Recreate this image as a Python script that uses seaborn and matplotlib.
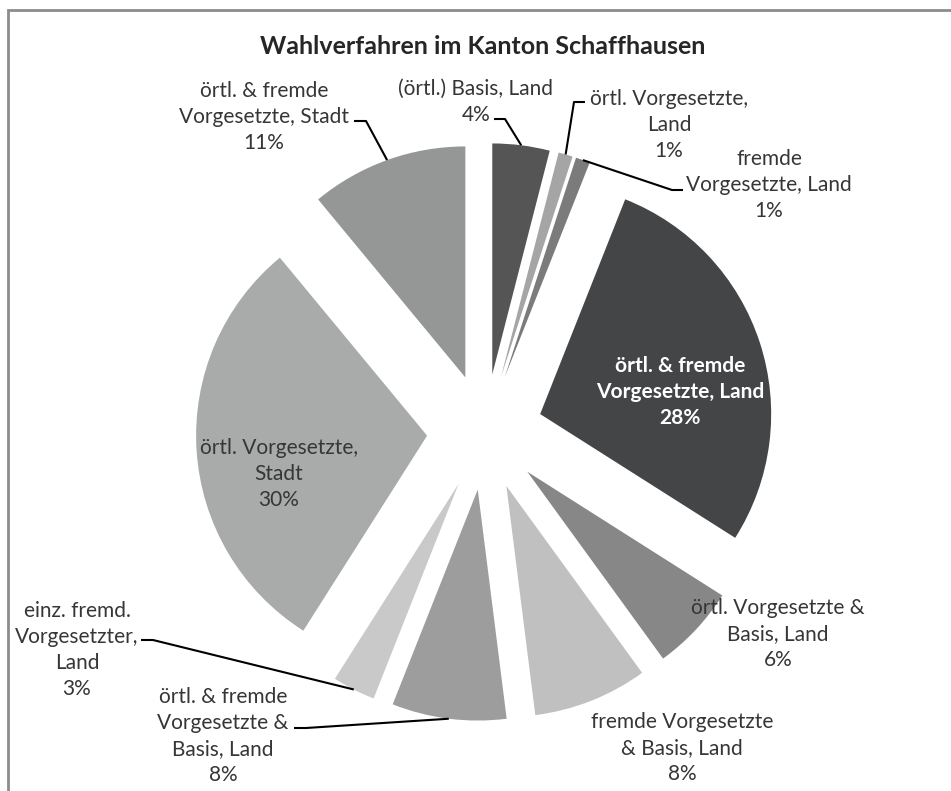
import numpy as np
import matplotlib
matplotlib.use('Agg')
import matplotlib.pyplot as plt
import seaborn as sns

sns.set_theme(style='white')
plt.rcParams['font.family'] = ['Lato', 'DejaVu Sans']

# Daten
categories = ['(örtl.) Basis, Land', 'örtl. Vorgesetzte,\nLand', 'fremde\nVorgesetzte, Land',
              'örtl. & fremde\nVorgesetzte, Land', 'örtl. Vorgesetzte &\nBasis, Land',
              'fremde Vorgesetzte\n& Basis, Land', 'örtl. & fremde\nVorgesetzte &\nBasis, Land',
              'einz. fremd.\nVorgesetzter,\nLand', 'örtl. Vorgesetzte,\nStadt',
              'örtl. & fremde\nVorgesetzte, Stadt']
shares = [4, 1, 1, 28, 6, 8, 8, 3, 30, 11]
colors = ['#555555', '#a5a5a5', '#7b7b7b', '#444547', '#878787',
          '#c0c0c0', '#9d9d9d', '#c9c9c9', '#a9aaaa', '#959696']

W, H = 951, 791
fig = plt.figure(figsize=(W / 100, H / 100), dpi=100)
ax = fig.add_axes([0, 0, 1, 1])

def px(x, y):
    # Pixel von oben -> Datenkoordinaten (y nach oben)
    return x, H - y

cx, cy = px(485, 432)
R = 231
EXPL = 58

wedges, _ = ax.pie(shares, colors=sns.color_palette(colors), startangle=90, counterclock=False,
                   radius=R, center=(cx, cy), explode=[EXPL] * len(shares),
                   wedgeprops=dict(linewidth=0))
ax.set_xlim(0, W)
ax.set_ylim(0, H)
ax.set_aspect('auto')
ax.axis('off')

# Beschriftungen (Mitte des Textblocks, Pixel von oben)
label_pos = [(476, 102), (669, 125), (769, 185), (680, 392), (778, 634),
             (682, 748), (223, 736), (77, 650), (279, 474), (264, 117)]
# Führungslinien: (Start am Text, Knick)
leaders = {0: [(494, 119), (505, 119)], 1: [(585, 102), (574, 102)],
           2: [(683, 190), (672, 190)], 9: [(354, 121), (366, 121)],
           7: [(141, 640), (153, 640)], 6: [(294, 728), (306, 728)]}

txt_color = '#363636'
FS = 15.0
LS = 1.39
for i, (name, v) in enumerate(zip(categories, shares)):
    x, y = px(*label_pos[i])
    if i == 3:
        ax.text(x, y, f'{name}\n{v}%', ha='center', va='center', fontsize=FS,
                color='white', fontweight='bold', linespacing=LS)
    else:
        ax.text(x, y, f'{name}\n{v}%', ha='center', va='center', fontsize=FS,
                color=txt_color, linespacing=LS)
    if i in leaders:
        w = wedges[i]
        tm = np.deg2rad((w.theta1 + w.theta2) / 2)
        ex = w.center[0] + R * np.cos(tm)
        ey = w.center[1] + R * np.sin(tm)
        pts = [px(*p) for p in leaders[i]] + [(ex, ey)]
        ax.plot([p[0] for p in pts], [p[1] for p in pts], color='black', lw=1.5,
                solid_capstyle='butt')

tx, ty = px(483, 47)
ax.text(tx, ty, 'Wahlverfahren im Kanton Schaffhausen', ha='center', va='center',
        fontsize=18, fontweight='bold', color='#262626')

# Rahmen (oben und links)
ax.plot(*zip(px(7.5, 791), px(7.5, 9.5), px(951, 9.5)), color='#8c8c8c', lw=2,
        solid_joinstyle='miter')

fig.savefig('out.png', dpi=100, facecolor='white')
